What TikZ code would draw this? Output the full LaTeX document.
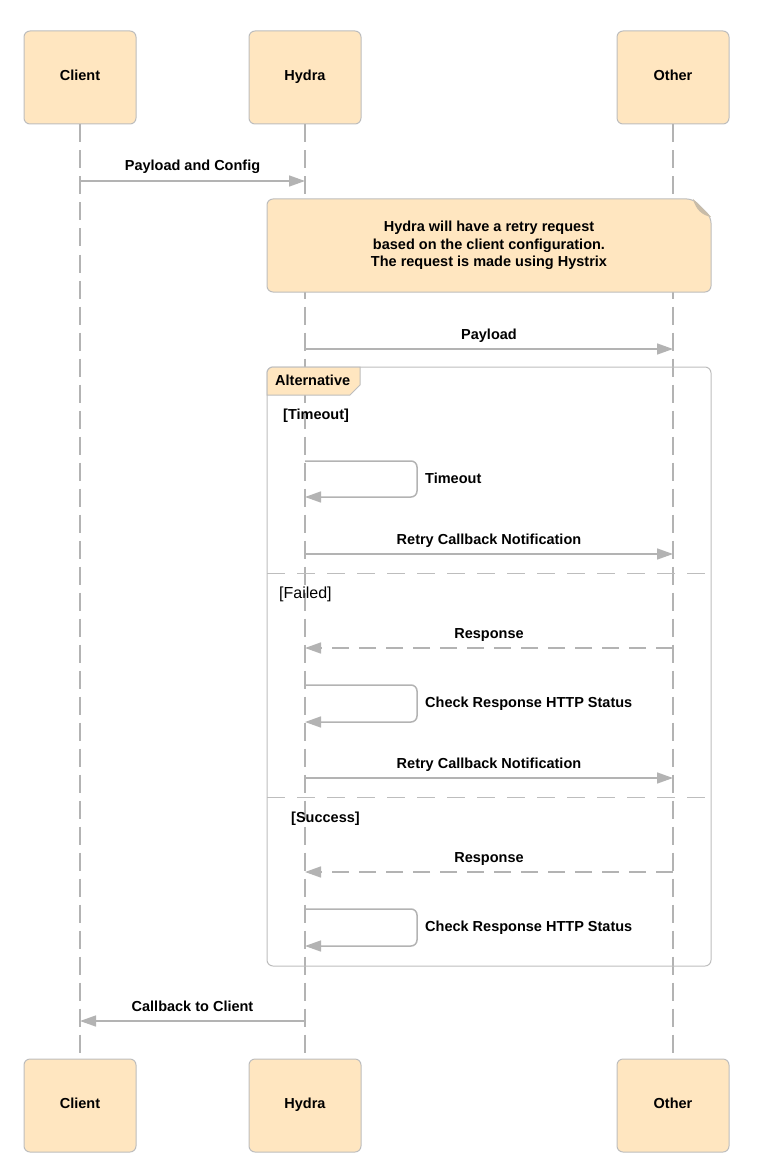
\documentclass[tikz,border=0pt]{standalone}
\usepackage{fontspec}
\setmainfont{Liberation Sans}
\usetikzlibrary{arrows.meta}

\definecolor{boxfill}{HTML}{FFE6C0}
\definecolor{boxline}{HTML}{BDBDBD}
\definecolor{linegray}{HTML}{B3B3B3}
\definecolor{foldgray}{HTML}{C9BCA8}

\begin{document}
\begin{tikzpicture}[x=1pt,y=-1pt,
  actor/.style={draw=boxline, fill=boxfill, rounded corners=6pt, line width=1pt,
    minimum width=112pt, minimum height=93pt, text depth=5pt, font=\fontsize{14.5}{17}\selectfont\bfseries},
  life/.style={draw=linegray, line width=1.5pt, dash pattern=on 18pt off 8pt},
  msg/.style={draw=linegray, line width=1.5pt, -{Triangle[length=16pt,width=11pt]}},
  reply/.style={msg, dash pattern=on 17pt off 10pt},
  lbl/.style={font=\fontsize{14.5}{17}\selectfont\bfseries, inner sep=0pt},
  frame/.style={draw=boxline, line width=1pt},
  sep/.style={draw=boxline, line width=1pt, dash pattern=on 18pt off 12pt}]
\useasboundingbox (0,0) rectangle (764,1166);

\node[actor] (clientTop) at (80,77.5) {Client};
\node[actor] (hydraTop) at (305,77.5) {Hydra};
\node[actor] (otherTop) at (673,77.5) {Other};
\node[actor] (clientBot) at (80,1105.5) {Client};
\node[actor] (hydraBot) at (305,1105.5) {Hydra};
\node[actor] (otherBot) at (673,1105.5) {Other};

\draw[life] (clientTop) -- (clientBot);
\draw[life] (hydraTop) -- (hydraBot);
\draw[life] (otherTop) -- (otherBot);

\coordinate (c1) at (80,181);
\coordinate (h1) at (305,181);
\draw[msg] (c1) -- node[lbl, anchor=base, yshift=10pt] (lblConfig) {Payload and Config} (h1);

% note
\filldraw[draw=boxline, fill=boxfill, line width=1pt, rounded corners=6pt]
  (267,199) -- (267,292) -- (711,292) -- (711,217) -- (693,199) -- cycle;
\fill[foldgray] (693,199) -- (711,217) .. controls (702,215) and (696,210) .. (693,199) -- cycle;
\node[lbl, align=center, font=\fontsize{14.5}{17.5}\selectfont\bfseries] (noteText) at (489,245.5)
  {Hydra will have a retry request\\ based on the client configuration.\\ The request is made using Hystrix};

\coordinate (h2) at (305,349);
\coordinate (o2) at (673,349);
\draw[msg] (h2) -- node[lbl, anchor=base, yshift=10pt] (lblPayload) {Payload} (o2);

% alternative frame
\draw[frame, rounded corners=6pt] (267,367) rectangle (711,966);
\filldraw[frame, fill=boxfill] (360,385) -- (360,367) -- (273,367)
  arc[start angle=90, end angle=180, radius=6pt] -- (267,395) -- (350,395) -- cycle;
\node[lbl, anchor=west] (altLabel) at (275,380) {Alternative};
\draw[sep] (267,573) -- (711,573);
\draw[sep] (267,797) -- (711,797);
\node[lbl, anchor=base west] (guardTimeout) at (283,419) {[Timeout]};
\node[anchor=base west, inner sep=0pt, font=\fontsize{16}{19}\selectfont] (guardFailed) at (279,598) {[Failed]};
\node[lbl, anchor=base west] (guardSuccess) at (291,822) {[Success]};

% timeout branch
\coordinate (h3a) at (305,461);
\coordinate (h3b) at (305,497);
\draw[msg, rounded corners=6pt] (h3a) -- ++(112,0) |- (h3b);
\node[lbl, anchor=base west] (lblTimeout) at (425,483) {Timeout};
\coordinate (h4) at (305,554);
\coordinate (o4) at (673,554);
\draw[msg] (h4) -- node[lbl, anchor=base, yshift=10pt] (lblRetryA) {Retry Callback Notification} (o4);

% failed branch
\coordinate (o5) at (673,648);
\coordinate (h5) at (305,648);
\draw[reply] (o5) -- node[lbl, anchor=base, yshift=10pt] (lblRespA) {Response} (h5);
\coordinate (h6a) at (305,685);
\coordinate (h6b) at (305,722);
\draw[msg, rounded corners=6pt] (h6a) -- ++(112,0) |- (h6b);
\node[lbl, anchor=base west] (lblCheckA) at (425,707) {Check Response HTTP Status};
\coordinate (h7) at (305,778);
\coordinate (o7) at (673,778);
\draw[msg] (h7) -- node[lbl, anchor=base, yshift=10pt] (lblRetryB) {Retry Callback Notification} (o7);

% success branch
\coordinate (o8) at (673,872);
\coordinate (h8) at (305,872);
\draw[reply] (o8) -- node[lbl, anchor=base, yshift=10pt] (lblRespB) {Response} (h8);
\coordinate (h9a) at (305,909);
\coordinate (h9b) at (305,946);
\draw[msg, rounded corners=6pt] (h9a) -- ++(112,0) |- (h9b);
\node[lbl, anchor=base west] (lblCheckB) at (425,931) {Check Response HTTP Status};

\coordinate (h10) at (305,1021);
\coordinate (c10) at (80,1021);
\draw[msg] (h10) -- node[lbl, anchor=base, yshift=10pt] (lblCallback) {Callback to Client} (c10);
\end{tikzpicture}
\end{document}
